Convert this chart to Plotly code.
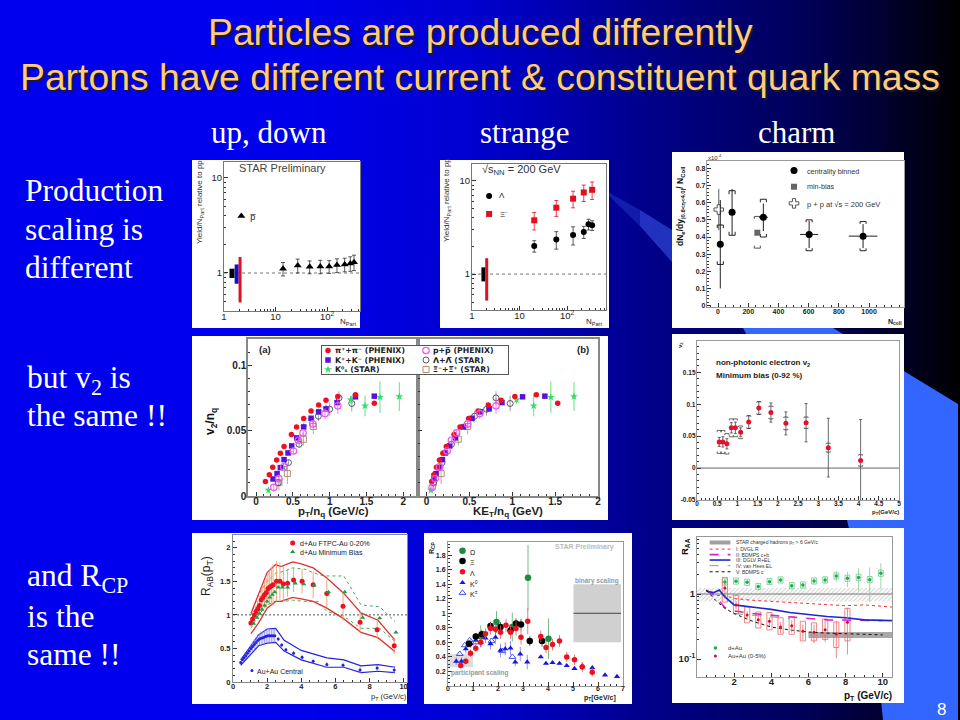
import plotly.graph_objects as go

# ---------- slide background ----------
bg_x = [0, 80, 160, 240, 320, 400, 480, 560, 640, 720, 800, 880, 960]
bg_blue = [238, 238, 238, 238, 232, 220, 205, 175, 140, 115, 90, 50, 0]
swoosh_body_x = [672, 833, 958, 958, 883, 875, 847, 743, 672]
swoosh_body_y = [230, 328, 404, 720, 720, 640, 520, 328, 262]
swoosh_tail_x = [608, 640, 672, 672, 640, 608]
swoosh_tail_y = [192, 210, 230, 262, 226, 195]

# ---------- white picture tiles (x0, x1, y0, y1) ----------
tiles = [(192, 360, 160, 328), (440, 609, 160, 328), (672, 904, 152, 328),
         (192, 608, 336, 520), (672, 904, 334, 520),
         (192, 407, 533, 704), (424, 632, 533, 704), (672, 904, 528, 703)]

# ---------- antiproton yield ----------
pbar_n = [14, 27, 46, 74, 110, 156, 220, 283, 334]
pbar_y = [1.11, 1.2, 1.16, 1.17, 1.17, 1.21, 1.23, 1.26, 1.3]
pbar_e = [0.18, 0.2, 0.18, 0.19, 0.18, 0.2, 0.2, 0.22, 0.24]

# ---------- strange yield ----------
lam_n = [20.4, 59.5, 134, 225, 283, 337]
lam_y = [2.0, 2.35, 2.63, 2.83, 3.42, 3.33]
lam_e = [0.28, 0.5, 0.58, 0.42, 0.45, 0.4]
xi_n = [20.4, 59.5, 134, 225, 337]
xi_y = [3.77, 5.15, 6.43, 7.5, 8.0]
xi_e = [0.8, 1.0, 1.3, 1.5, 1.7]

# ---------- charm yield ----------
e_n = [15, 93, 300, 603, 960]
e_y = [0.358, 0.545, 0.515, 0.415, 0.405]
e_ey = [0.258, 0.135, 0.08, 0.08, 0.07]
e_ex = [12, 12, 30, 60, 95]
e_lo = [0.24, 0.41, 0.40, 0.32, 0.32]
e_hi = [0.47, 0.67, 0.62, 0.50, 0.49]
mb_n = [260]
mb_y = [0.425]
mb_lo = [0.335]
mb_hi = [0.52]
pp_n = [5]
pp_y = [0.56]
pp_e = [0.12]

# ---------- v2/nq ----------
pi_pt = [.127, .18, .226, .28, .33, .38, .48, .55, .647, .747, .85, .95, 1.11, 1.35, 1.606]
pi_ke = [.06, .085, .115, .15, .19, .23, .32, .39, .49, .6, .72, .87, 1.03, 1.28, 1.53]
pi_v = [.011, .0163, .0219, .0276, .0327, .0378, .047, .0528, .0592, .065, .0696, .0732, .076, .0773, .0709]
k_pt = [.23, .285, .33, .38, .434, .484, .552, .647, .747, .85, .95, 1.10, 1.35, 1.606]
k_ke = [.085, .11, .14, .185, .22, .27, .335, .43, .53, .63, .73, .88, 1.12, 1.38]
k_v = [.013, .0171, .0217, .0278, .0329, .0383, .0444, .0528, .0594, .0643, .0666, .0714, .0758, .0763]
k0_pt = [.167, .37, .448, .647, .747, .846, .95, 1.285, 1.48, 1.683, 1.946]
k0_ke = [.05, .16, .22, .43, .53, .63, .73, 1.05, 1.25, 1.45, 1.72]
k0_v = [.0045, .022, .0332, .053, .0585, .0643, .0673, .0735, .0689, .0755, .076]
k0_e = [.002, .001, .001, .001, .001, .002, .002, .003, .008, .012, .011]
p_pt = [.24, .31, .376, .507, .575, .638, .77, .937, 1.11]
p_ke = [.065, .1, .15, .24, .29, .35, .48, .62, .81]
p_v = [.0066, .0133, .0222, .0344, .0426, .0482, .0551, .063, .0689]
p_e = [.002, .003, .002, .002, .002, .002, .003, .004, .006]
l_pt = [.3, .44, .584, .846, 1.0, 1.127, 1.3]
l_ke = [.08, .18, .29, .56, .7, .81, .975]
l_v = [.0102, .0255, .0395, .061, .0663, .075, .0707]
l_e = [.002, .002, .002, .004, .005, .005, .006]
x_pt = [.31, .425, .643, .778]
x_ke = [.08, .17, .37, .48]
x_v = [.0102, .0171, .0434, .0531]
x_e = [.006, .008, .005, .006]

# ---------- electron v2 ----------
ev_pt = [.55, .64, .74, .85, .95, 1.08, 1.28, 1.53, 1.83, 2.2, 2.7, 3.25, 4.05]
ev_v = [.041, .041, .038, .063, .063, .056, .072, .094, .087, .07, .071, .032, .012]
ev_stat = [.007, .008, .008, .008, .009, .007, .01, .01, .015, .018, .03, .046, .064]
ev_sys = [.018, .018, .016, .014, .014, .01, .01, .01, .01, .01, .009, .007, .009]

# ---------- R_AB ----------
da_pt = [1.05, 1.15, 1.25, 1.35, 1.45, 1.55, 1.65, 1.75, 1.85, 1.95, 2.05, 2.15, 2.25, 2.35, 2.55, 2.75, 2.95, 3.2, 3.55, 4.05, 4.7, 5.5, 6.45, 7.45, 8.45, 9.45]
da_r = [.88, .94, 1.0, 1.05, 1.09, 1.14, 1.22, 1.26, 1.3, 1.33, 1.39, 1.41, 1.43, 1.45, 1.5, 1.5, 1.46, 1.47, 1.52, 1.5, 1.45, 1.32, 1.13, .89, .78, .54]
da_e = [.05, .06, .08, .1, .12, .14, .16, .18, .2, .22, .24, .26, .28, .3, .3, .28, .26, .2, .18, .18, .2, .2, .22, .16, .14, .12]
dm_pt = [1.2, 1.4, 1.55, 1.7, 1.85, 2.0, 2.15, 2.3, 2.45, 2.65, 2.9, 3.2, 3.65, 4.15, 4.75, 5.6, 6.55, 7.6, 8.6, 9.55]
dm_r = [.87, .96, 1.02, 1.08, 1.14, 1.2, 1.26, 1.3, 1.34, 1.41, 1.41, 1.41, 1.47, 1.46, 1.44, 1.34, 1.34, .96, .95, .74]
band_pt = [1.05, 1.5, 2, 2.5, 2.8, 3.5, 4, 4.7, 5.5, 6.5, 7.5, 8.5, 9.5]
band_red_up = [1.02, 1.3, 1.63, 1.75, 1.72, 1.79, 1.76, 1.7, 1.55, 1.32, 1.03, .92, .62]
band_red_lo = [.72, .88, 1.1, 1.2, 1.2, 1.26, 1.24, 1.2, 1.1, .94, .74, .66, .45]
gband_pt = [1.05, 1.5, 2, 2.5, 3, 3.5, 4.2, 5, 5.5, 6.5, 7.5, 8.6, 9.5]
gband_up = [1.0, 1.3, 1.5, 1.62, 1.65, 1.7, 1.68, 1.6, 1.58, 1.58, 1.15, 1.12, .9]
gband_lo = [.8, 1.0, 1.15, 1.2, 1.2, 1.22, 1.2, 1.2, 1.05, .98, .8, .8, .6]
au_pt = [.45, .55, .65, .75, .85, .95, 1.05, 1.15, 1.25, 1.35, 1.45, 1.55, 1.65, 1.75, 1.85, 1.95, 2.05, 2.15, 2.25, 2.35, 2.45, 2.65, 2.85, 3.1, 3.55, 4.05, 4.7, 5.5, 6.45, 7.45, 8.45, 9.45]
au_r = [.29, .33, .36, .39, .43, .46, .5, .53, .56, .59, .62, .64, .65, .66, .67, .68, .69, .69, .69, .69, .69, .64, .55, .48, .43, .37, .31, .26, .25, .18, .21, .18]
au_e = [.02, .02, .03, .03, .04, .05, .06, .07, .08, .08, .09, .09, .1, .1, .1, .1, .1, .1, .1, .1, .1, .03, .03, .03, .03, .03, .03, .04, .04, .05, .05, .05]
bband_pt = [.45, 1, 1.5, 2, 2.5, 3, 4, 5.5, 6.5, 7.5, 8.5, 9.5]
bband_up = [.33, .52, .7, .79, .8, .62, .47, .36, .33, .24, .26, .22]
bband_lo = [.25, .41, .54, .58, .59, .46, .33, .22, .22, .14, .16, .14]

# ---------- R_CP ----------
om_pt = [1.31, 1.94, 2.57, 3.2, 4.02]
om_r = [.683, .88, .81, 1.49, .65]
om_e = [.15, .15, .2, .45, .28]
xc_pt = [.84, 1.11, 1.35, 1.7, 2.1, 2.5, 2.72, 2.92, 3.27, 3.76]
xc_r = [.58, .68, .71, .825, .81, .765, .86, .844, .62, .62]
xc_e = [.05, .05, .06, .06, .07, .07, .07, .08, .07, .08]
lc_pt = [.51, .71, .9, 1.11, 1.31, 1.5, 1.7, 1.9, 2.1, 2.32, 2.5, 2.72, 2.92, 3.19, 3.71, 3.92, 4.18, 4.46, 4.75, 5.06, 5.37, 5.77]
lc_r = [.283, .34, .45, .52, .6, .72, .79, .78, .74, .835, .74, .79, .67, .89, .68, .53, .57, .62, .4, .36, .26, .19]
lc_e = [.04, .04, .05, .05, .06, .07, .08, .08, .09, .09, .09, .1, .1, .18, .08, .08, .08, .08, .07, .07, .07, .06]
k0c_pt = [.33, .54, .71, .91, 1.11, 1.31, 1.5, 1.7, 1.9, 2.1, 2.29, 2.5, 2.69, 2.89, 3.17, 3.71, 3.92, 4.18, 4.46, 4.75, 5.06, 5.37, 5.77, 6.28, 6.76]
k0c_r = [.34, .34, .51, .58, .63, .6, .66, .58, .67, .49, .51, .52, .33, .44, .33, .4, .31, .32, .31, .28, .24, .28, .25, .15, .13]
k0c_e = [.05, .05, .06, .06, .06, .07, .07, .08, .09, .09, .09, .1, .06, .1, .1, .02, .02, .02, .02, .02, .02, .02, .02, .01, .01]
kc_pt = [.47, .67, .87, 1.11, 1.74, 2.17, 2.58]
kc_r = [.44, .56, .63, .6, .62, .48, .4]
bin_x = [5.02, 6.92]
bin_y = [.6, 1.4]
part_x = [0, 1.0]
part_y = [.26, .44]
cp_leg_y = [1.86, 1.72, 1.57, 1.42, 1.28]

# ---------- R_AA ----------
raa_d_pt = [1.5, 2.1, 2.7, 3.3, 3.9, 4.5, 5.1, 5.7, 6.3, 6.9, 7.5, 8.1, 8.7, 9.3, 9.9]
raa_d = [1.53, 1.57, 1.51, 1.3, 1.55, 1.64, 1.34, 1.37, 1.58, 1.64, 1.89, 1.74, 1.8, 1.66, 2.08]
raa_d_e = [.15, .1, .1, .1, .1, .12, .12, .12, .15, .2, .35, .45, .7, .9, .9]
raa_a_pt = [1.5, 2.1, 2.7, 3.3, 3.9, 4.5, 5.1, 5.7, 6.3, 6.9, 7.5, 8.1]
raa_a = [1.24, .68, .475, .40, .38, .31, .325, .267, .257, .283, .243, .367]
raa_a_up = [1.8, .95, .63, .53, .52, .43, .45, .38, .36, .41, .37, .6]
raa_a_lo = [.75, .5, .36, .3, .28, .24, .24, .19, .19, .2, .15, .19]
raa_a_e = [.25, .1, .06, .06, .06, .06, .07, .07, .08, .1, .14, .25]
dvgl_pt = [.5, 1, 1.5, 2, 3, 4, 5, 6, 7, 8, 9, 10, 10.5]
dvgl = [1.15, .95, .95, .85, .8, .77, .73, .7, .69, .66, .68, .65, .63]
bdmps_pt = [.5, 1, 1.5, 2, 3, 4, 5, 6, 7, 8, 9, 10]
bdmps = [1.15, .9, .62, .55, .5, .47, .44, .42, .4, .4, .39, .39]
dglv_pt = [.5, .9, 1.2, 1.5, 2, 3, 4, 5, 6, 7, 8, 9, 10.5]
dglv = [1.1, 1.05, 1.15, .9, .68, .63, .58, .52, .48, .45, .43, .4, .39]
hees_pt = [2, 3, 4, 5]
hees = [.5, .47, .44, .42]
bdc_pt = [.5, 1, 1.5, 2, 3, 4, 5, 6, 7, 8, 9, 10]
bdc = [1.15, .8, .6, .5, .38, .31, .28, .26, .25, .245, .24, .235]
raa_leg_y = [4.9, 4.03, 3.33, 2.73, 2.2]
raa_leg_names = ["I: DVGL R", "II: BDMPS c+b", "III: DGLV R+EL", "IV: van Hees EL", "V: BDMPS c"]
raa_leg_x = [.68, 1.8]

# ---------- tick labels ----------
dec = [2, 3, 4, 5, 6, 7, 8, 9]
log_minor_x = [m * d for d in (1, 10, 100) for m in dec]
log_minor_y = [m * d for d in (0.1, 1, 10) for m in dec]

SANS = "Liberation Sans"
SERIF = "Liberation Serif"
WIDE = "DejaVu Sans"

fig = go.Figure()
layout = dict(
    width=960, height=720, margin=dict(l=0, r=0, t=0, b=0), showlegend=False,
    paper_bgcolor="#0000EE", plot_bgcolor="rgba(0,0,0,0)",
    xaxis=dict(domain=[0, 1], range=[0, 960], visible=False, fixedrange=True),
    yaxis=dict(domain=[0, 1], range=[720, 0], visible=False, fixedrange=True),
    # legend plate of the v2 panel, above the frame line of those panels
    xaxis11=dict(domain=[321 / 960, 509 / 960], range=[321, 509], visible=False, fixedrange=True, anchor="y11"),
    yaxis11=dict(domain=[1 - 375 / 720, 1 - 345 / 720], range=[375, 345], visible=False, fixedrange=True, anchor="x11"),
)
ann = []


def T(px, py, text, size=8, color="#222", font=SANS, anchor="center", angle=0, bold=False, shadow=None):
    f = dict(family=font, size=size, color=color)
    if bold:
        f["weight"] = "bold"
    if shadow:
        f["shadow"] = shadow
    ann.append(dict(x=px / 960, y=1 - py / 720, xref="paper", yref="paper", text=text, showarrow=False,
                    font=f, xanchor=anchor, yanchor="middle", textangle=angle))


def axes(n, box, xr, yr, xt, yt, size=8, xtype="linear", ytype="linear", xlab=None, ylab=None,
         xminor=None, yminor=None, bold=False, line="#777", ticklab_y=True, lw=1, xs=-3, ys=-1):
    d = dict(family=SANS, size=size, color="#222")
    if bold:
        d["weight"] = "bold"
    common = dict(showgrid=False, zeroline=False, showline=True, linecolor=line, linewidth=lw, mirror=True,
                  ticks="inside", ticklen=4, tickwidth=0.8, tickcolor="#333", tickfont=d, tickmode="array",
                  fixedrange=True, automargin=False)
    layout[f"xaxis{n}"] = dict(common, domain=[box[0] / 960, box[1] / 960], range=xr, type=xtype, tickvals=xt,
                               ticktext=xlab if xlab else [str(v) for v in xt], anchor=f"y{n}", ticklabelstandoff=xs,
                               minor=dict(xminor, ticks="inside", ticklen=2, tickwidth=0.6, tickcolor="#333") if xminor else None)
    layout[f"yaxis{n}"] = dict(common, domain=[1 - box[3] / 720, 1 - box[2] / 720], range=yr, type=ytype, tickvals=yt,
                               ticktext=ylab if ylab else [str(v) for v in yt], anchor=f"x{n}", ticklabelstandoff=ys,
                               showticklabels=ticklab_y,
                               minor=dict(yminor, ticks="inside", ticklen=2, tickwidth=0.6, tickcolor="#333") if yminor else None)


def S(n, x, y, mode="markers", **kw):
    fig.add_trace(go.Scatter(x=x, y=y, mode=mode, xaxis=f"x{n}" if n > 1 else "x", yaxis=f"y{n}" if n > 1 else "y",
                             hoverinfo="skip", cliponaxis=kw.pop("clip", True), **kw))


def M(sym, color, size, line=None, lw=0):
    return dict(symbol=sym, color=color, size=size, line=dict(color=line or color, width=lw))


def EY(arr, color="#333", w=0, t=0.8):
    return dict(type="data", array=arr, visible=True, color=color, width=w, thickness=t)


def brackets(xs, lo, hi, half):
    bx, by = [], []
    for x, a, b in zip(xs, lo, hi):
        bx += [x - half, x - half, x + half, x + half, None, x - half, x - half, x + half, x + half, None]
        by += [a + (b - a) * 0.08, a, a, a + (b - a) * 0.08, None, b - (b - a) * 0.08, b, b, b - (b - a) * 0.08, None]
    return bx, by


def boxes(xs, lo, hi, half):
    bx, by = [], []
    for x, a, b in zip(xs, lo, hi):
        bx += [x - half, x + half, x + half, x - half, x - half, None]
        by += [a, a, b, b, a, None]
    return bx, by


# ---- page layer ----
fig.add_trace(go.Heatmap(x=bg_x, y=[0, 720], z=[bg_blue, bg_blue], zmin=0, zmax=255, zsmooth="best",
                         colorscale=[[0, "#000000"], [1, "#0000FF"]], showscale=False, hoverinfo="skip"))
for i, a in enumerate([0.25, 0.45]):
    S(1, swoosh_tail_x[:2] + swoosh_tail_x[-2:] if i == 0 else swoosh_tail_x[1:5],
      swoosh_tail_y[:2] + swoosh_tail_y[-2:] if i == 0 else swoosh_tail_y[1:5],
      mode="lines", fill="toself", fillcolor=f"rgba(70,110,255,{a})", line=dict(width=0))
S(1, swoosh_body_x, swoosh_body_y, mode="lines", fill="toself", fillcolor="#3366FF", line=dict(width=0))
for t in tiles:
    S(1, [t[0], t[1], t[1], t[0], t[0]], [t[2], t[2], t[3], t[3], t[2]], mode="lines", fill="toself",
      fillcolor="white", line=dict(width=0))

# ---- slide text ----
TITLE = "#FFCC77"
SH = "2px 2px 1px #1a1a33"
T(480, 32, "Particles are produced differently", 37.3, TITLE, SANS, shadow=SH)
T(480, 77, "Partons have different current &amp; constituent quark mass", 37.3, TITLE, SANS, shadow=SH)
T(269, 132, "up, down", 31, "white", SERIF)
T(525, 132, "strange", 31, "white", SERIF)
T(796, 132, "charm", 31, "white", SERIF)
for px, py, s in [(23, 191, "Production"), (23, 229, "scaling is"), (23, 267, "different"),
                  (25, 380, "but v<sub>2</sub> is"), (25, 416, "the same !!"),
                  (25, 578, "and R<sub>CP</sub>"), (25, 616, "is the"), (25, 654, "same !!")]:
    T(px, py, s, 31.5, "white", SERIF, anchor="left")
T(941, 709, "8", 17, "white", SANS)

# ---- panel 2: antiproton ----
n = 2
axes(n, (224, 360, 162, 311), [0, 2.64], [-0.4, 1.168], [1, 10, 100], [1, 10], size=9.5, xtype="log", ytype="log",
     xlab=["1", "10", "10<sup>2</sup>"], ylab=["1", "10"], xminor=dict(tickvals=log_minor_x), yminor=dict(tickvals=log_minor_y))
S(n, [1, 440], [1, 1], mode="lines", line=dict(color="#666", width=0.9, dash="dot"))
S(n, [1.43, 1.43], [0.885, 1.11], mode="lines", line=dict(color="black", width=5))
S(n, [1.76, 1.76], [0.77, 1.23], mode="lines", line=dict(color="#1010D0", width=4))
S(n, [2.05, 2.05], [0.49, 1.47], mode="lines", line=dict(color="#E01020", width=3))
S(n, pbar_n, pbar_y, marker=M("triangle-up", "black", 7), error_y=EY(pbar_e, w=2))
S(n, [2.17], [3.98], marker=M("triangle-up", "black", 7))
T(253, 217, "p&#773;", 9)
T(282, 168, "STAR Preliminary", 11, "#444")
T(200, 202, "Yield/N<sub>Part</sub> relative to pp", 8, "#333", angle=-90)
T(348, 322, "N<sub>Part</sub>", 8)

# ---- panel 3: strange ----
n = 3
axes(n, (472, 606, 164, 310), [0, 2.82], [-0.385, 1.18], [1, 10, 100], [1, 10], size=9.5, xtype="log", ytype="log",
     xlab=["1", "10", "10<sup>2</sup>"], ylab=["1", "10"], xminor=dict(tickvals=log_minor_x), yminor=dict(tickvals=log_minor_y))
S(n, [1, 660], [1, 1], mode="lines", line=dict(color="#666", width=0.9, dash="dot"))
S(n, [1.74, 1.74], [0.835, 1.18], mode="lines", line=dict(color="black", width=4))
S(n, [2.04, 2.04], [0.52, 1.48], mode="lines", line=dict(color="#E01020", width=3))
S(n, lam_n, lam_y, marker=M("circle", "black", 6), error_y=EY(lam_e, w=2))
S(n, xi_n, xi_y, marker=M("square", "#E01020", 6), error_y=EY(xi_e, "#E01020", w=2))
S(n, [2.29], [6.86], marker=M("circle", "black", 6))
S(n, [2.29], [4.41], marker=M("square", "#E01020", 6))
T(502, 196, "Λ", 8)
T(503, 214, "Ξ<sup>-</sup>", 8)
T(521, 170, "√s<sub>NN</sub> = 200 GeV", 11, "#333")
T(447, 200, "Yield/N<sub>Part</sub> relative to pp", 8, "#333", angle=-90)
T(594, 322, "N<sub>Part</sub>", 8)

# ---- panel 4: charm ----
n = 4
axes(n, (707, 904, 161, 307), [-73, 1231], [-0.008, 0.843], [0, 200, 400, 600, 800, 1000],
     [0, .1, .2, .3, .4, .5, .6, .7, .8], size=7, bold=True, xminor=dict(dtick=50), yminor=dict(dtick=.02), line="#999", lw=1.4)
bx, by = brackets(e_n, e_lo, e_hi, 20)
S(n, bx, by, mode="lines", line=dict(color="#222", width=1))
bx, by = brackets(mb_n, mb_lo, mb_hi, 20)
S(n, bx, by, mode="lines", line=dict(color="#555", width=1))
S(n, pp_n, pp_y, marker=M("cross", "white", 8, "#555", 1), error_y=EY(pp_e))
S(n, mb_n, mb_y, marker=M("square", "#666", 6))
S(n, e_n, e_y, marker=M("circle", "black", 7), error_y=EY(e_ey, "#222", t=1),
  error_x=dict(type="data", array=e_ex, color="#222", width=0, thickness=1))
S(n, [503], [.788], marker=M("circle", "black", 7))
S(n, [503], [.693], marker=M("square", "#666", 6))
S(n, [503], [.596], marker=M("cross", "white", 8, "#555", 1))
T(805, 171, "centrality binned", 7.2, "#333", anchor="left")
T(805, 187, "min-bias", 7.2, "#333", anchor="left")
T(805, 204, "p + p at √s = 200 GeV", 7.5, "#333", anchor="left")
T(680, 206, "dN<sub>e</sub>/dy<sub>|0.8&lt;η&lt;4.0|</sub>/ N<sub>Coll</sub>", 8.5, "#111", angle=-90, bold=True)
T(715, 157, "x10<sup>-4</sup>", 6, "#333")
T(895, 322, "N<sub>coll</sub>", 7, "#222", bold=True)

# ---- panels 5/6: v2/nq ----
yt = [0, 0.05, 0.1]
axes(5, (248, 418, 339, 496), [-0.11, 2.2], [0, 0.12], [0, .5, 1, 1.5, 2], yt, size=10, bold=True,
     xlab=["0", "0.5", "1", "1.5", "2"], ylab=["0", "0.05", "0.1"], xminor=dict(dtick=.1), yminor=dict(dtick=.01),
     line="#888", lw=1.5, xs=-5, ys=-2)
axes(6, (418, 598, 339, 496), [-0.1, 2.0], [0, 0.12], [0, .5, 1, 1.5, 2], yt, size=10, bold=True, ticklab_y=False,
     xlab=["0", "0.5", "1", "1.5", "2"], xminor=dict(dtick=.1), yminor=dict(dtick=.01), line="#888", lw=1.5, xs=-5)
RED, PUR, GRN, MAG, TAN = "#EE1020", "#5A10D8", "#33DD66", "#EE55EE", "#B0906A"
for n, (pi, k, k0, pp, ll, xx) in {5: (pi_pt, k_pt, k0_pt, p_pt, l_pt, x_pt), 6: (pi_ke, k_ke, k0_ke, p_ke, l_ke, x_ke)}.items():
    S(n, xx, x_v, marker=M("square-open", TAN, 6, TAN, 1), error_y=EY(x_e, "#998"))
    S(n, ll, l_v, marker=M("circle-open", "#333", 6, "#333", 0.8), error_y=EY(l_e, "#888"))
    S(n, k0, k0_v, marker=M("star", GRN, 6), error_y=EY(k0_e, GRN))
    S(n, k, k_v, marker=M("square", PUR, 5.5))
    S(n, pi, pi_v, marker=M("circle", RED, 5.5))
    S(n, pp, p_v, marker=M("circle-open", MAG, 6.5, MAG, 1.2), error_y=EY(p_e, MAG))
S(11, [321, 509, 509, 321, 321], [345, 345, 375, 375, 345], mode="lines", fill="toself", fillcolor="white",
  line=dict(color="#555", width=2), clip=False)
S(11, [328], [350.5], marker=M("circle", RED, 5.5))
S(11, [328], [360], marker=M("square", PUR, 5.5))
S(11, [328], [369.5], marker=M("star", GRN, 6))
S(11, [426], [350.5], marker=M("circle-open", MAG, 6.5, MAG, 1.2))
S(11, [426], [360], marker=M("circle-open", "#333", 6, "#333", 0.8))
S(11, [426], [369.5], marker=M("square-open", TAN, 6, TAN, 1))
for px, py, s in [(333, 350.5, "π⁺+π⁻ (PHENIX)"), (333, 360, "K⁺+K⁻ (PHENIX)"),
                  (333, 369.5, "K⁰ₛ (STAR)"), (431, 350.5, "p+p&#773; (PHENIX)"),
                  (431, 360, "Λ+Λ&#773; (STAR)"), (431, 369.5, "Ξ⁻+Ξ&#773;⁺ (STAR)")]:
    T(px, py, s, 7.8, "#222", font=WIDE, anchor="left", bold=True)
T(265, 349, "(a)", 9.5, "#222", bold=True)
T(583, 349, "(b)", 9.5, "#222", bold=True)
T(333, 512, "p<sub>T</sub>/n<sub>q</sub> (GeV/c)", 11.5, "#222", bold=True)
T(508, 512, "KE<sub>T</sub>/n<sub>q</sub> (GeV)", 11.5, "#222", bold=True)
T(211, 422, "v<sub>2</sub>/n<sub>q</sub>", 12, "#111", angle=-90, bold=True)

# ---- panel 7: electron v2 ----
n = 7
axes(n, (697, 899, 341, 500), [0, 5], [-0.05, 0.199], [0, .5, 1, 1.5, 2, 2.5, 3, 3.5, 4, 4.5, 5], [-.05, 0, .05, .1, .15],
     size=6.5, bold=True, xlab=["0", "0.5", "1", "1.5", "2", "2.5", "3", "3.5", "4", "4.5", "5"],
     ylab=["-0.05", "0", "0.05", "0.1", "0.15"], xminor=dict(dtick=.1), yminor=dict(dtick=.01), line="#999", lw=1.4)
S(n, [0, 5], [0, 0], mode="lines", line=dict(color="#666", width=1))
bx, by = brackets(ev_pt, [v - s for v, s in zip(ev_v, ev_sys)], [v + s for v, s in zip(ev_v, ev_sys)], 0.05)
S(n, bx, by, mode="lines", line=dict(color="#444", width=0.8))
S(n, ev_pt, ev_v, marker=M("circle", "#E5102A", 5), error_y=EY(ev_stat, "#444", w=1.5))
T(714, 363, "non-photonic electron v<sub>2</sub>", 8, "#222", anchor="left", bold=True)
T(714, 375, "Minimum bias (0-92 %)", 8, "#222", anchor="left", bold=True)
T(680, 345, "v<sub>2</sub>", 6, "#222", bold=True, angle=-90)
T(885, 512, "p<sub>T</sub>(GeV/c)", 6, "#222", bold=True)

# ---- panel 8: R_AB ----
n = 8
axes(n, (233, 407, 535, 682), [0, 10.2], [0, 2.19], [0, 2, 4, 6, 8, 10], [0, .5, 1, 1.5, 2], size=7.5, bold=True,
     ylab=["0", "0.5", "1", "1.5", "2"], xminor=dict(dtick=.5), yminor=dict(dtick=.1), line="#888", xs=-3, ys=0)
S(n, [0, 10.2], [1, 1], mode="lines", line=dict(color="#222", width=0.8, dash="2px,2px"))
S(n, gband_pt, gband_up, mode="lines", line=dict(color="#22AA44", width=0.9, dash="dot"))
S(n, gband_pt, gband_lo, mode="lines", line=dict(color="#22AA44", width=0.9, dash="dot"))
S(n, band_pt, band_red_up, mode="lines", line=dict(color="#E03030", width=1.3))
S(n, band_pt, band_red_lo, mode="lines", line=dict(color="#E03030", width=1.3))
S(n, bband_pt, bband_up, mode="lines", line=dict(color="#2222DD", width=1.2))
S(n, bband_pt, bband_lo, mode="lines", line=dict(color="#2222DD", width=1.2))
S(n, da_pt, da_r, marker=M("circle", "#EE1020", 5), error_y=EY(da_e, "#E5A070", t=0.9))
S(n, dm_pt, dm_r, marker=M("triangle-up", "#1E9A44", 4.5))
S(n, au_pt, au_r, marker=M("circle", "#2222DD", 3), error_y=EY(au_e, "#8888EE", t=0.8))
S(n, [3.5], [2.07], marker=M("circle", "#EE1020", 5))
S(n, [3.5], [1.94], marker=M("triangle-up", "#1E9A44", 4.5))
S(n, [1.11], [.17], marker=M("circle", "#2222DD", 3))
T(298, 543, "d+Au FTPC-Au 0-20%", 7, "#222", anchor="left")
T(298, 552, "d+Au Minimum Bias", 7, "#222", anchor="left")
T(255, 671, "Au+Au Central", 7, "#222", anchor="left")
T(207, 576, "R<sub>AB</sub>(p<sub>T</sub>)", 12, "#222", angle=-90)
T(389, 697, "p<sub>T</sub> (GeV/c)", 7.5, "#222")

# ---- panel 9: R_CP ----
n = 9
axes(n, (448, 623, 542, 686), [0, 7], [0, 1.98], [0, 1, 2, 3, 4, 5, 6, 7], [.2, .4, .6, .8, 1, 1.2, 1.4, 1.6, 1.8],
     size=7, bold=True, ylab=["0.2", "0.4", "0.6", "0.8", "1", "1.2", "1.4", "1.6", "1.8"],
     xminor=dict(dtick=.25), yminor=dict(dtick=.05), line="#999", xs=-4, ys=0)
S(n, [bin_x[0], bin_x[1], bin_x[1], bin_x[0], bin_x[0]], [bin_y[0], bin_y[0], bin_y[1], bin_y[1], bin_y[0]],
  mode="lines", fill="toself", fillcolor="#D0D0D0", line=dict(width=0))
S(n, bin_x, [1, 1], mode="lines", line=dict(color="#444", width=1))
S(n, [part_x[0], part_x[1], part_x[1], part_x[0], part_x[0]], [part_y[0], part_y[0], part_y[1], part_y[1], part_y[0]],
  mode="lines", fill="toself", fillcolor="#DDDDDD", line=dict(width=0))
S(n, om_pt, om_r, marker=M("circle", "#1E8A3C", 6.5), error_y=EY(om_e, "#55AA66"))
S(n, kc_pt, kc_r, marker=M("triangle-up-open", "#3344EE", 6, "#3344EE", 0.9))
S(n, k0c_pt, k0c_r, marker=M("triangle-up", "#1818DD", 5.5), error_y=EY(k0c_e, "#7777EE"))
S(n, xc_pt, xc_r, marker=M("circle", "black", 6.5), error_y=EY(xc_e, "#444"))
S(n, lc_pt, lc_r, marker=M("circle", "#EE1020", 5.5), error_y=EY(lc_e, "#EE5555"))
for yy, sty in zip(cp_leg_y, [M("circle", "#1E8A3C", 6.5), M("circle", "black", 6.5), M("circle", "#EE1020", 5.5),
                              M("triangle-up", "#1818DD", 5.5), M("triangle-up-open", "#3344EE", 6, "#3344EE", 0.9)]):
    S(n, [.58], [yy], marker=sty)
for py, s in [(552, "Ω"), (562, "Ξ"), (573, "Λ"), (584, "K<sup>0</sup>"), (594, "K<sup>±</sup>")]:
    T(468, py, s, 7, "#222", anchor="left")
T(584, 547, "STAR Preliminary", 7, "#BBBBBB", bold=True)
T(597, 581, "binary scaling", 6.5, "#999999", bold=True)
T(479, 673, "participant scaling", 6.5, "#999999", bold=True)
T(432, 548, "R<sub>CP</sub>", 7, "#222", bold=True, angle=-90)
T(600, 698, "p<sub>T</sub>[GeV/c]", 7, "#222", bold=True)

# ---- panel 10: R_AA ----
n = 10
axes(n, (697, 892, 537, 677), [0, 10.5], [-1.277, 0.877], [2, 4, 6, 8, 10], [0.1, 1], size=9.5, bold=True, ytype="log",
     ylab=["10<sup>-1</sup>", "1"], xminor=dict(dtick=.5), yminor=dict(tickvals=log_minor_y), line="#999", xs=-4)
S(n, [0, 10.5, 10.5, 0, 0], [.77, .77, 1.24, 1.24, .77], mode="lines", fill="toself", fillcolor="rgba(0,0,0,0)",
  fillpattern=dict(shape="/", fgcolor="#999", bgcolor="white", size=3, solidity=0.3), line=dict(width=0))
S(n, [6, 10.5, 10.5, 6, 6], [.21, .21, .26, .26, .21], mode="lines", fill="toself", fillcolor="#A8A8A8", line=dict(width=0))
S(n, [0, 10.5], [1, 1], mode="lines", line=dict(color="#777", width=1))
bx, by = boxes(raa_d_pt, [v * .9 for v in raa_d], [v * 1.12 for v in raa_d], 0.13)
S(n, bx, by, mode="lines", line=dict(color="#66CC88", width=0.8))
bx, by = boxes(raa_a_pt, raa_a_lo, raa_a_up, 0.14)
S(n, bx, by, mode="lines", line=dict(color="#EE7777", width=0.9))
S(n, dvgl_pt, dvgl, mode="lines", line=dict(color="#EE3333", width=1, dash="dot"))
S(n, bdmps_pt, bdmps, mode="lines", line=dict(color="#E020D0", width=1.6, dash="dash"))
S(n, dglv_pt, dglv, mode="lines", line=dict(color="#1A2AD0", width=1.6))
S(n, hees_pt, hees, mode="lines", line=dict(color="#66BB66", width=1, dash="dash"))
S(n, bdc_pt, bdc, mode="lines", line=dict(color="#111", width=1, dash="dot"))
S(n, raa_d_pt, raa_d, marker=M("circle", "#22AA55", 3.5), error_y=EY(raa_d_e, "#88CC99"))
S(n, raa_a_pt, raa_a, marker=M("circle", "#CC1030", 3), error_y=EY(raa_a_e, "#EE6666"))
S(n, raa_leg_x, [6.2, 6.2], mode="lines", line=dict(color="#A0A0A0", width=4))
for yy, st in zip(raa_leg_y, [dict(color="#EE3333", width=1, dash="dot"), dict(color="#E020D0", width=1.6, dash="dash"),
                              dict(color="#1A2AD0", width=1.6), dict(color="#66BB66", width=1, dash="dash"),
                              dict(color="#111", width=1, dash="dot")]):
    S(n, raa_leg_x, [yy, yy], mode="lines", line=st)
S(n, [.99], [.148], marker=M("circle", "#22AA55", 3.5))
S(n, [.99], [.111], marker=M("circle", "#CC1030", 3))
T(734, 542, "STAR charged hadrons p<sub>T</sub> &gt; 6 GeV/c", 5, "#333", anchor="left")
for py, s in zip([549, 555, 560, 566, 572], raa_leg_names):
    T(734, py, s, 5, "#333", anchor="left")
T(726, 648, "d+Au", 6, "#333", anchor="left")
T(726, 656, "Au+Au (0-5%)", 6, "#333", anchor="left")
T(685, 547, "R<sub>AA</sub>", 9.5, "#111", angle=-90, bold=True)
T(868, 696, "p<sub>T</sub> (GeV/c)", 10, "#111", bold=True)

layout["annotations"] = ann
fig.update_layout(**layout)
fig.write_html("out.html", config=dict(displayModeBar=False), post_script="document.body.style.margin='0';")
